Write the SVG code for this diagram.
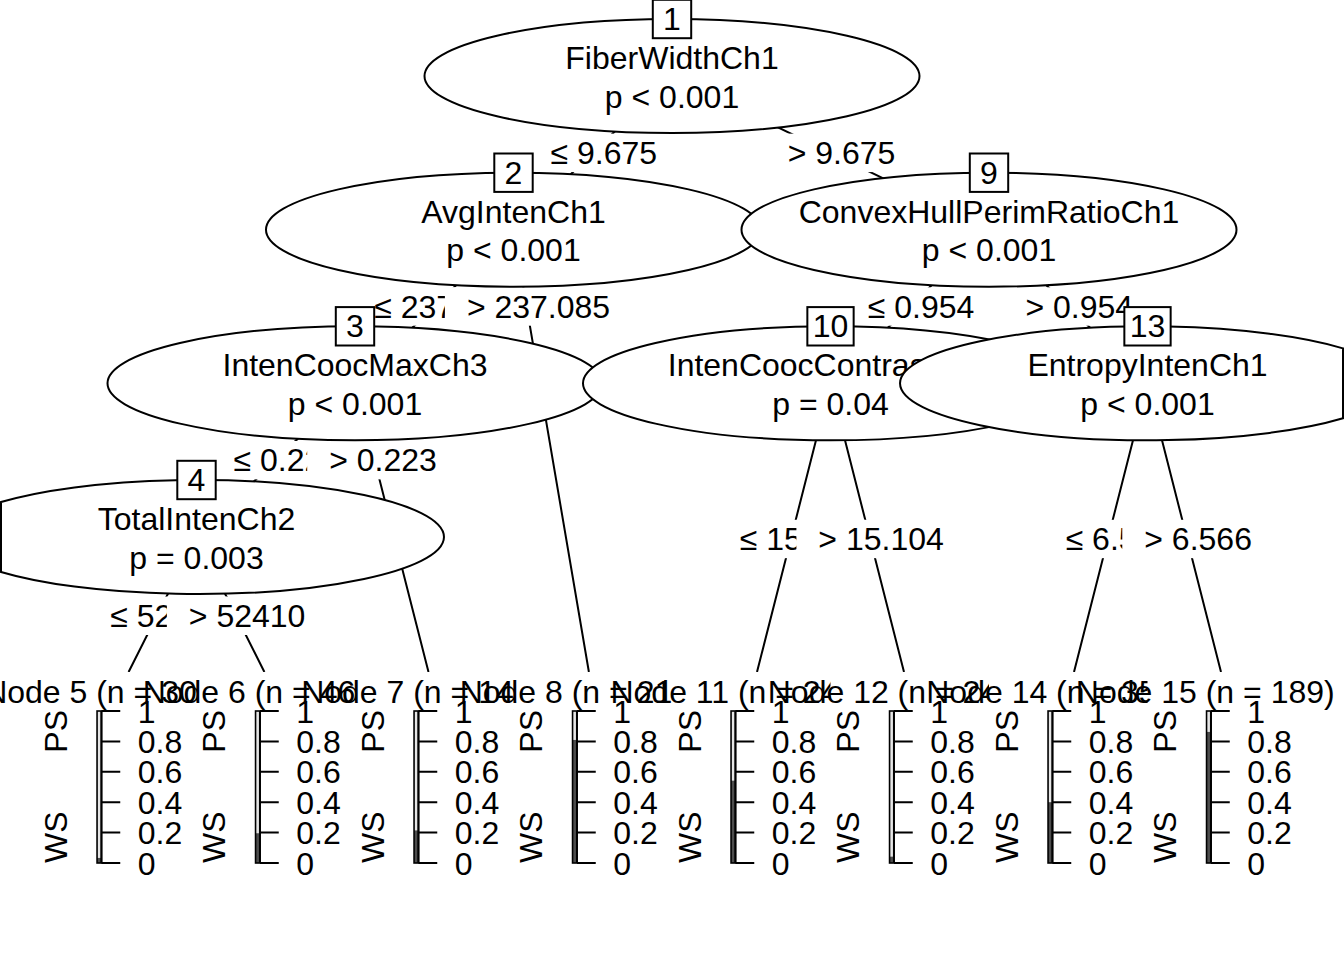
<svg xmlns="http://www.w3.org/2000/svg" xmlns:xlink="http://www.w3.org/1999/xlink" width="1344" height="960" viewBox="0 0 1344 960">
<style>
.e{fill:#fff;stroke:#000;stroke-width:2}
.t{font-family:"Liberation Sans",Arial,Helvetica,sans-serif;font-size:32px;fill:#000}
.m{text-anchor:middle}
.en{text-anchor:end}
.ln{stroke:#000;stroke-width:2;fill:none}
.lb{fill:#fff;stroke:none}
.bg{fill:#fff;stroke:none}
.dk{fill:#4d4d4d}
.lt{fill:#e6e6e6}
.bo{fill:none;stroke:#000;stroke-width:1.6}
</style>
<defs>
<path id="axp" class="ln" d="M5.7 711V863M5.7 863H24.5M5.7 832.6H24.5M5.7 802.2H24.5M5.7 771.8H24.5M5.7 741.4H24.5M5.7 711H24.5"/>
</defs>
<rect width="1344" height="960" fill="#fff"/>
<g id="connectors">
<path class="ln" d="M672 76L513.5 229.7M672 76L989 229.7M513.5 229.7L355 383.3M513.5 229.7L588.9 672M355 383.3L196.5 537M355 383.3L428.5 672M196.5 537L128.6 672M196.5 537L264.4 672M989 229.7L830.5 383.3M989 229.7L1147.5 383.3M830.5 383.3L757 672M830.5 383.3L904 672M1147.5 383.3L1074 672M1147.5 383.3L1221 672"/>
</g>
<g id="edge-labels">
<rect class="lb" x="528.5" y="133.65" width="129.5" height="38.4"/>
<text class="t m" x="603.75" y="163.85">≤ 9.675</text>
<rect class="lb" x="352.2" y="287.3" width="165.1" height="38.4"/>
<text class="t m" x="445.25" y="317.5">≤ 237.085</text>
<rect class="lb" x="211.5" y="440.95" width="129.5" height="38.4"/>
<text class="t m" x="286.75" y="471.15">≤ 0.223</text>
<rect class="lb" x="88.2" y="596.6" width="138.4" height="38.4"/>
<text class="t m" x="167.9" y="626.8">≤ 52410</text>
<rect class="lb" x="166.85" y="596.6" width="139.5" height="38.4"/>
<text class="t m" x="247.1" y="626.8">&gt; 52410</text>
<rect class="lb" x="307.17" y="440.95" width="130.65" height="38.4"/>
<text class="t m" x="383" y="471.15">&gt; 0.223</text>
<rect class="lb" x="444.9" y="287.3" width="166.2" height="38.4"/>
<text class="t m" x="538.5" y="317.5">&gt; 237.085</text>
<rect class="lb" x="765.67" y="133.65" width="130.65" height="38.4"/>
<text class="t m" x="841.5" y="163.85">&gt; 9.675</text>
<rect class="lb" x="845.75" y="287.3" width="129.5" height="38.4"/>
<text class="t m" x="921" y="317.5">≤ 0.954</text>
<rect class="lb" x="717.75" y="519.8" width="147.3" height="38.4"/>
<text class="t m" x="801.9" y="550">≤ 15.104</text>
<rect class="lb" x="796.4" y="519.8" width="148.4" height="38.4"/>
<text class="t m" x="881.1" y="550">&gt; 15.104</text>
<rect class="lb" x="1003.42" y="287.3" width="130.65" height="38.4"/>
<text class="t m" x="1079.25" y="317.5">&gt; 0.954</text>
<rect class="lb" x="1043.65" y="519.8" width="129.5" height="38.4"/>
<text class="t m" x="1118.9" y="550">≤ 6.566</text>
<rect class="lb" x="1122.27" y="519.8" width="130.65" height="38.4"/>
<text class="t m" x="1198.1" y="550">&gt; 6.566</text>
</g>
<g id="node1">
<ellipse class="e" cx="672" cy="76" rx="247.5" ry="57"/>
<text class="t m" x="672" y="69">FiberWidthCh1</text>
<text class="t m" x="672" y="107.5">p &lt; 0.001</text>
<rect class="e" x="652.8" y="-0.2" width="38.4" height="38.4"/>
<text class="t m" x="672" y="30">1</text>
</g>
<g id="node2">
<ellipse class="e" cx="513.5" cy="229.7" rx="247.5" ry="57"/>
<text class="t m" x="513.5" y="222.7">AvgIntenCh1</text>
<text class="t m" x="513.5" y="261.2">p &lt; 0.001</text>
<rect class="e" x="494.3" y="153.5" width="38.4" height="38.4"/>
<text class="t m" x="513.5" y="183.7">2</text>
</g>
<g id="node3">
<ellipse class="e" cx="355" cy="383.3" rx="247.5" ry="57"/>
<text class="t m" x="355" y="376.3">IntenCoocMaxCh3</text>
<text class="t m" x="355" y="414.8">p &lt; 0.001</text>
<rect class="e" x="335.8" y="307.1" width="38.4" height="38.4"/>
<text class="t m" x="355" y="337.3">3</text>
</g>
<g id="node4">
<path class="e" d="M1 502.04A247.5 57 0 1 1 1 571.96Z"/>
<text class="t m" x="196.5" y="530">TotalIntenCh2</text>
<text class="t m" x="196.5" y="568.5">p = 0.003</text>
<rect class="e" x="177.3" y="460.8" width="38.4" height="38.4"/>
<text class="t m" x="196.5" y="491">4</text>
</g>
<g id="node9">
<ellipse class="e" cx="989" cy="229.7" rx="247.5" ry="57"/>
<text class="t m" x="989" y="222.7">ConvexHullPerimRatioCh1</text>
<text class="t m" x="989" y="261.2">p &lt; 0.001</text>
<rect class="e" x="969.8" y="153.5" width="38.4" height="38.4"/>
<text class="t m" x="989" y="183.7">9</text>
</g>
<g id="node10">
<ellipse class="e" cx="830.5" cy="383.3" rx="247.5" ry="57"/>
<text class="t m" x="830.5" y="376.3">IntenCoocContrastCh3</text>
<text class="t m" x="830.5" y="414.8">p = 0.04</text>
<rect class="e" x="807.35" y="307.1" width="46.3" height="38.4"/>
<text class="t m" x="830.5" y="337.3">10</text>
</g>
<g id="node13">
<path class="e" d="M1343 348.34A247.5 57 0 1 0 1343 418.26Z"/>
<text class="t m" x="1147.5" y="376.3">EntropyIntenCh1</text>
<text class="t m" x="1147.5" y="414.8">p &lt; 0.001</text>
<rect class="e" x="1124.35" y="307.1" width="46.3" height="38.4"/>
<text class="t m" x="1147.5" y="337.3">13</text>
</g>
<g id="node5" transform="translate(95.75,0)">
<rect class="bg" x="-57.75" y="672" width="158.5" height="288"/>
<text class="t m" x="0" y="703">Node 5 (n = 30)</text>
<text class="t en" transform="translate(-29,710) rotate(-90)">PS</text>
<text class="t" transform="translate(-29,863) rotate(-90)">WS</text>
<rect class="lt" x="1.3" y="711" width="4.4" height="152"/>
<rect class="dk" x="1.3" y="857.93" width="4.4" height="5.07"/>
<rect class="bo" x="1.3" y="711" width="4.4" height="152"/>
<use xlink:href="#axp"/>
<text class="t" x="42" y="874.5">0</text><text class="t" x="42" y="844.1">0.2</text><text class="t" x="42" y="813.7">0.4</text><text class="t" x="42" y="783.3">0.6</text><text class="t" x="42" y="752.9">0.8</text><text class="t" x="42" y="722.5">1</text>
</g>
<g id="node6" transform="translate(254.25,0)">
<rect class="bg" x="-57.75" y="672" width="158.5" height="288"/>
<text class="t m" x="0" y="703">Node 6 (n = 46)</text>
<text class="t en" transform="translate(-29,710) rotate(-90)">PS</text>
<text class="t" transform="translate(-29,863) rotate(-90)">WS</text>
<rect class="lt" x="1.3" y="711" width="4.4" height="152"/>
<rect class="dk" x="1.3" y="833.26" width="4.4" height="29.74"/>
<rect class="bo" x="1.3" y="711" width="4.4" height="152"/>
<use xlink:href="#axp"/>
<text class="t" x="42" y="874.5">0</text><text class="t" x="42" y="844.1">0.2</text><text class="t" x="42" y="813.7">0.4</text><text class="t" x="42" y="783.3">0.6</text><text class="t" x="42" y="752.9">0.8</text><text class="t" x="42" y="722.5">1</text>
</g>
<g id="node7" transform="translate(412.75,0)">
<rect class="bg" x="-57.75" y="672" width="158.5" height="288"/>
<text class="t m" x="0" y="703">Node 7 (n = 14)</text>
<text class="t en" transform="translate(-29,710) rotate(-90)">PS</text>
<text class="t" transform="translate(-29,863) rotate(-90)">WS</text>
<rect class="lt" x="1.3" y="711" width="4.4" height="152"/>
<rect class="dk" x="1.3" y="830.43" width="4.4" height="32.57"/>
<rect class="bo" x="1.3" y="711" width="4.4" height="152"/>
<use xlink:href="#axp"/>
<text class="t" x="42" y="874.5">0</text><text class="t" x="42" y="844.1">0.2</text><text class="t" x="42" y="813.7">0.4</text><text class="t" x="42" y="783.3">0.6</text><text class="t" x="42" y="752.9">0.8</text><text class="t" x="42" y="722.5">1</text>
</g>
<g id="node8" transform="translate(571.25,0)">
<rect class="bg" x="-57.75" y="672" width="158.5" height="288"/>
<text class="t m" x="0" y="703">Node 8 (n = 21)</text>
<text class="t en" transform="translate(-29,710) rotate(-90)">PS</text>
<text class="t" transform="translate(-29,863) rotate(-90)">WS</text>
<rect class="lt" x="1.3" y="711" width="4.4" height="152"/>
<rect class="dk" x="1.3" y="739.95" width="4.4" height="123.05"/>
<rect class="bo" x="1.3" y="711" width="4.4" height="152"/>
<use xlink:href="#axp"/>
<text class="t" x="42" y="874.5">0</text><text class="t" x="42" y="844.1">0.2</text><text class="t" x="42" y="813.7">0.4</text><text class="t" x="42" y="783.3">0.6</text><text class="t" x="42" y="752.9">0.8</text><text class="t" x="42" y="722.5">1</text>
</g>
<g id="node11" transform="translate(729.75,0)">
<rect class="bg" x="-57.75" y="672" width="158.5" height="288"/>
<text class="t m" x="0" y="703">Node 11 (n = 24)</text>
<text class="t en" transform="translate(-29,710) rotate(-90)">PS</text>
<text class="t" transform="translate(-29,863) rotate(-90)">WS</text>
<rect class="lt" x="1.3" y="711" width="4.4" height="152"/>
<rect class="dk" x="1.3" y="780.67" width="4.4" height="82.33"/>
<rect class="bo" x="1.3" y="711" width="4.4" height="152"/>
<use xlink:href="#axp"/>
<text class="t" x="42" y="874.5">0</text><text class="t" x="42" y="844.1">0.2</text><text class="t" x="42" y="813.7">0.4</text><text class="t" x="42" y="783.3">0.6</text><text class="t" x="42" y="752.9">0.8</text><text class="t" x="42" y="722.5">1</text>
</g>
<g id="node12" transform="translate(888.25,0)">
<rect class="bg" x="-57.75" y="672" width="158.5" height="288"/>
<text class="t m" x="0" y="703">Node 12 (n = 24)</text>
<text class="t en" transform="translate(-29,710) rotate(-90)">PS</text>
<text class="t" transform="translate(-29,863) rotate(-90)">WS</text>
<rect class="lt" x="1.3" y="711" width="4.4" height="152"/>
<rect class="dk" x="1.3" y="856.67" width="4.4" height="6.33"/>
<rect class="bo" x="1.3" y="711" width="4.4" height="152"/>
<use xlink:href="#axp"/>
<text class="t" x="42" y="874.5">0</text><text class="t" x="42" y="844.1">0.2</text><text class="t" x="42" y="813.7">0.4</text><text class="t" x="42" y="783.3">0.6</text><text class="t" x="42" y="752.9">0.8</text><text class="t" x="42" y="722.5">1</text>
</g>
<g id="node14" transform="translate(1046.75,0)">
<rect class="bg" x="-57.75" y="672" width="158.5" height="288"/>
<text class="t m" x="0" y="703">Node 14 (n = 35)</text>
<text class="t en" transform="translate(-29,710) rotate(-90)">PS</text>
<text class="t" transform="translate(-29,863) rotate(-90)">WS</text>
<rect class="lt" x="1.3" y="711" width="4.4" height="152"/>
<rect class="dk" x="1.3" y="802.2" width="4.4" height="60.8"/>
<rect class="bo" x="1.3" y="711" width="4.4" height="152"/>
<use xlink:href="#axp"/>
<text class="t" x="42" y="874.5">0</text><text class="t" x="42" y="844.1">0.2</text><text class="t" x="42" y="813.7">0.4</text><text class="t" x="42" y="783.3">0.6</text><text class="t" x="42" y="752.9">0.8</text><text class="t" x="42" y="722.5">1</text>
</g>
<g id="node15" transform="translate(1205.25,0)">
<rect class="bg" x="-57.75" y="672" width="158.5" height="288"/>
<text class="t m" x="0" y="703">Node 15 (n = 189)</text>
<text class="t en" transform="translate(-29,710) rotate(-90)">PS</text>
<text class="t" transform="translate(-29,863) rotate(-90)">WS</text>
<rect class="lt" x="1.3" y="711" width="4.4" height="152"/>
<rect class="dk" x="1.3" y="731.91" width="4.4" height="131.09"/>
<rect class="bo" x="1.3" y="711" width="4.4" height="152"/>
<use xlink:href="#axp"/>
<text class="t" x="42" y="874.5">0</text><text class="t" x="42" y="844.1">0.2</text><text class="t" x="42" y="813.7">0.4</text><text class="t" x="42" y="783.3">0.6</text><text class="t" x="42" y="752.9">0.8</text><text class="t" x="42" y="722.5">1</text>
</g>
</svg>
